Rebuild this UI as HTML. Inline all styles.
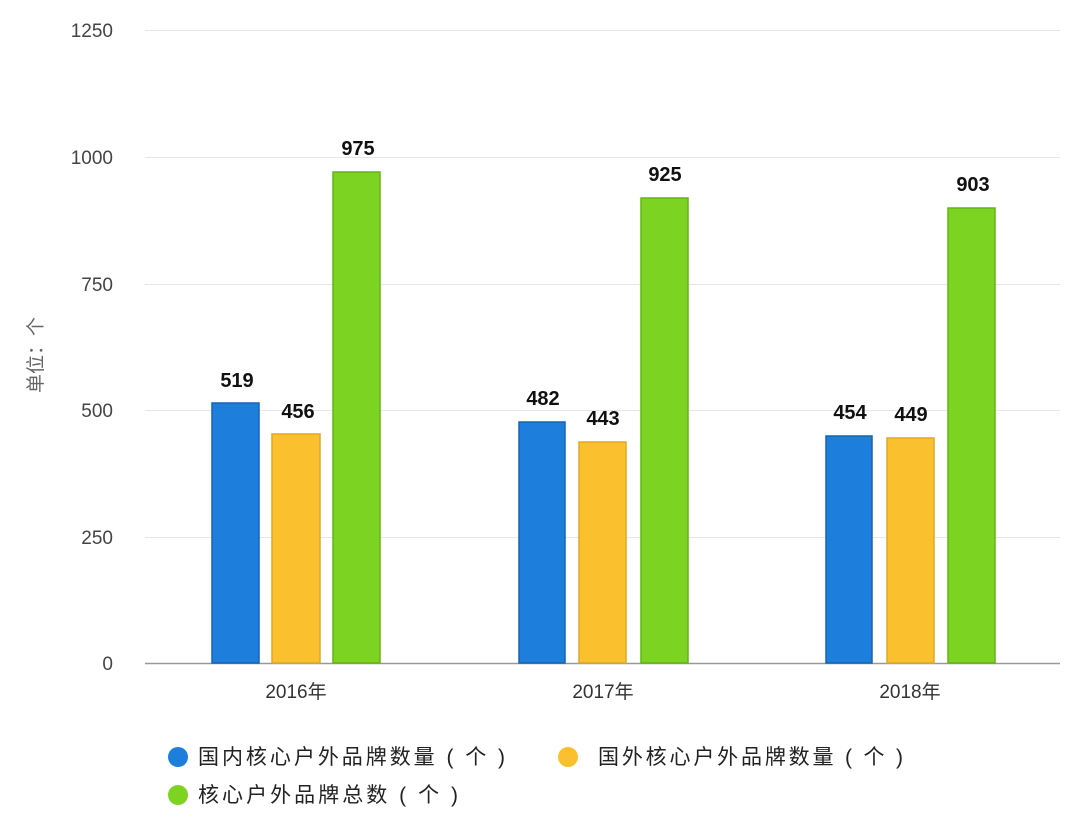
<!DOCTYPE html>
<html><head><meta charset="utf-8"><style>
body{margin:0;background:#fff;}
svg{display:block;}
text{font-family:"Liberation Sans","Noto Sans CJK SC",sans-serif;}
</style></head><body>
<svg width="1080" height="817" viewBox="0 0 1080 817">
<g stroke="#e6e6e6" stroke-width="1">
<line x1="145" y1="30.5" x2="1060" y2="30.5"/>
<line x1="145" y1="157.5" x2="1060" y2="157.5"/>
<line x1="145" y1="284.5" x2="1060" y2="284.5"/>
<line x1="145" y1="410.5" x2="1060" y2="410.5"/>
<line x1="145" y1="537.5" x2="1060" y2="537.5"/>
</g>
<line x1="145" y1="663.5" x2="1060" y2="663.5" stroke="#999" stroke-width="1.5"/>
<g font-size="19" fill="#444" text-anchor="end">
<text x="113" y="37">1250</text>
<text x="113" y="164">1000</text>
<text x="113" y="291">750</text>
<text x="113" y="417">500</text>
<text x="113" y="544">250</text>
<text x="113" y="670">0</text>
</g>
<text x="42" y="355" font-size="19" fill="#666" text-anchor="middle" transform="rotate(-90 42 355)">单位：个</text>
<g font-size="19" fill="#333" text-anchor="middle">
<text x="296" y="698">2016年</text>
<text x="603" y="698">2017年</text>
<text x="910" y="698">2018年</text>
</g>
<g stroke-width="1.5">
<rect x="212" y="403" width="47" height="260" fill="#1d7fdb" stroke="#1565b5"/>
<rect x="272" y="434" width="48" height="229" fill="#fbc02d" stroke="#e0a820"/>
<rect x="333" y="172" width="47" height="491" fill="#7dd321" stroke="#64b512"/>
<rect x="519" y="422" width="46" height="241" fill="#1d7fdb" stroke="#1565b5"/>
<rect x="579" y="442" width="47" height="221" fill="#fbc02d" stroke="#e0a820"/>
<rect x="641" y="198" width="47" height="465" fill="#7dd321" stroke="#64b512"/>
<rect x="826" y="436" width="46" height="227" fill="#1d7fdb" stroke="#1565b5"/>
<rect x="887" y="438" width="47" height="225" fill="#fbc02d" stroke="#e0a820"/>
<rect x="948" y="208" width="47" height="455" fill="#7dd321" stroke="#64b512"/>
</g>
<g font-size="20" font-weight="bold" fill="#111" text-anchor="middle">
<text x="237" y="387">519</text>
<text x="298" y="418">456</text>
<text x="358" y="155">975</text>
<text x="543" y="405">482</text>
<text x="603" y="425">443</text>
<text x="665" y="181">925</text>
<text x="850" y="419">454</text>
<text x="911" y="421">449</text>
<text x="973" y="191">903</text>
</g>
<g font-size="21" fill="#222">
<circle cx="178" cy="757" r="10" fill="#1d7fdb"/>
<text x="198" y="764" textLength="307" lengthAdjust="spacing">国内核心户外品牌数量 ( 个 )</text>
<circle cx="568" cy="757" r="10" fill="#fbc02d"/>
<text x="598" y="764" textLength="305" lengthAdjust="spacing">国外核心户外品牌数量 ( 个 )</text>
<circle cx="178" cy="795" r="10" fill="#7dd321"/>
<text x="198" y="802" textLength="260" lengthAdjust="spacing">核心户外品牌总数 ( 个 )</text>
</g>
</svg>
</body></html>
